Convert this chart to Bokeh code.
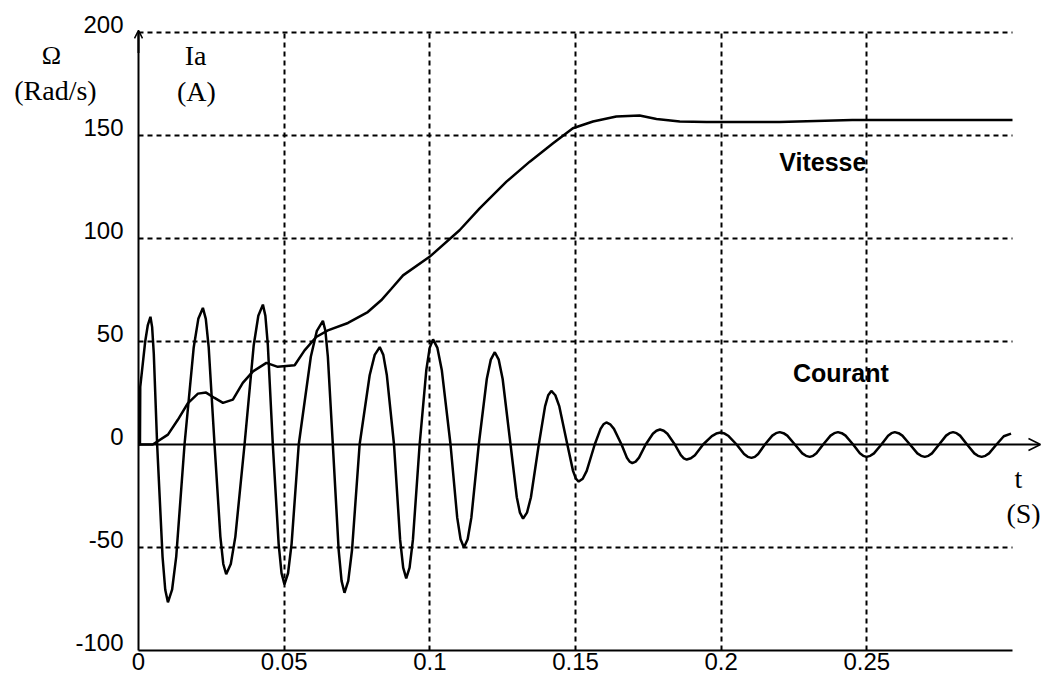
from bokeh.plotting import figure
from bokeh.models import FixedTicker, Label, Arrow, OpenHead, Range1d, LinearAxis
from bokeh.embed import file_html
from bokeh.resources import INLINE

# ---------------- data ----------------
x_ticks = [0, 0.05, 0.1, 0.15, 0.2, 0.25]
x_tick_labels = ["0", "0.05", "0.1", "0.15", "0.2", "0.25"]
y_ticks = [-100, -50, 0, 50, 100, 150, 200]
y_tick_labels = ["-100", "-50", "0", "50", "100", "150", "200"]
x_grid = [0.05, 0.1, 0.15, 0.2, 0.25]
y_grid = [-50, 50, 100, 150, 200]
t_max = 0.3

# Vitesse (speed, rad/s)
speed_t = [0.0, 0.0049, 0.0101, 0.0135, 0.0169, 0.0204, 0.0232, 0.0261, 0.0290,
           0.0324, 0.0358, 0.0393, 0.0439, 0.0478, 0.0536, 0.0570, 0.0610, 0.0650,
           0.0719, 0.0787, 0.0833, 0.0868, 0.0908, 0.0999, 0.1102, 0.1171, 0.1263,
           0.1343, 0.1423, 0.1491, 0.1560, 0.1640, 0.1720, 0.1778, 0.1858, 0.1950,
           0.2200, 0.2450, 0.3000]
speed_v = [0.0, 0.0, 4.8, 12.0, 20.0, 24.7, 25.2, 22.6, 20.2,
           21.8, 29.9, 35.5, 39.6, 37.7, 38.5, 45.7, 52.2, 55.4,
           59.0, 64.3, 70.0, 75.6, 82.1, 91.1, 104.0, 114.6, 127.6,
           137.3, 146.2, 153.5, 156.8, 159.2, 159.7, 158.0, 156.8, 156.5,
           156.5, 157.5, 157.5]

# Courant (armature current, A) - one line per half-wave
current_t = [0.0, 0.0005, 0.0006, 0.0023, 0.0032, 0.0041, 0.00468, 0.00525, 0.0064,
             0.00825, 0.00918, 0.0101, 0.01153, 0.01295, 0.0158,
             0.01895, 0.02053, 0.0221, 0.0231, 0.0241, 0.0261,
             0.0281, 0.0291, 0.0301, 0.03168, 0.03325, 0.0364,
             0.03955, 0.04113, 0.0427, 0.04355, 0.0444, 0.0461,
             0.0481, 0.0491, 0.0501, 0.05133, 0.05255, 0.0550,
             0.05915, 0.06123, 0.0633, 0.06415, 0.0650, 0.0667,
             0.0687, 0.0697, 0.0707, 0.0720, 0.0733, 0.0759,
             0.07935, 0.08108, 0.0828, 0.08403, 0.08525, 0.0877,
             0.0898, 0.09085, 0.0919, 0.09305, 0.0942, 0.0965,
             0.0988, 0.09995, 0.1011, 0.1026, 0.1041, 0.1071,
             0.1094, 0.11055, 0.1117, 0.11298, 0.11425, 0.1168,
             0.11955, 0.12093, 0.1223, 0.12365, 0.1250, 0.1277,
             0.12985, 0.13093, 0.1320, 0.13335, 0.1347, 0.1374,
             0.13955, 0.14063, 0.1417, 0.14308, 0.14445, 0.1472,
             0.14915, 0.15013, 0.1511, 0.15248, 0.15385, 0.1566,
             0.1586, 0.1596, 0.1606, 0.1619, 0.1632, 0.1658,
             0.16765, 0.16858, 0.1695, 0.17065, 0.1718, 0.1741,
             0.17655, 0.17778, 0.1790, 0.18028, 0.18155, 0.1841,
             0.18615, 0.18718, 0.1882, 0.1896, 0.1910, 0.1938,
             0.1968, 0.1983, 0.1998, 0.20118, 0.20255, 0.2053,
             0.20785, 0.20913, 0.2104, 0.21155, 0.2127, 0.2150,
             0.21755, 0.21883, 0.2201, 0.2214, 0.2227, 0.2253,
             0.22785, 0.22913, 0.2304, 0.23155, 0.2327, 0.2350,
             0.23755, 0.23883, 0.2401, 0.2414, 0.2427, 0.2453,
             0.2476, 0.24875, 0.2499, 0.25118, 0.25245, 0.2550,
             0.2573, 0.25845, 0.2596, 0.2609, 0.2622, 0.2648,
             0.26735, 0.26863, 0.2699, 0.27113, 0.27235, 0.2748,
             0.2772, 0.2784, 0.2796, 0.2808, 0.2820, 0.2844,
             0.2869, 0.28815, 0.2894, 0.29068, 0.29195, 0.2945,
             0.2970, 0.2995]
current_a = [0.0, 0.0, 28.0, 50.0, 58.0, 62.0, 57.0, 44.0, 0.0,
             -54.4, -70.5, -76.6, -70.5, -54.4, 0.0,
             47.1, 61.0, 66.3, 61.0, 47.1, 0.0,
             -44.7, -58.0, -63.0, -58.0, -44.7, 0.0,
             48.2, 62.5, 67.9, 62.5, 48.2, 0.0,
             -48.2, -62.5, -67.9, -62.5, -48.2, 0.0,
             42.6, 55.2, 60.0, 55.2, 42.6, 0.0,
             -51.1, -66.2, -72.0, -66.2, -51.1, 0.0,
             33.6, 43.5, 47.3, 43.5, 33.6, 0.0,
             -46.2, -59.8, -65.0, -59.8, -46.2, 0.0,
             36.2, 46.9, 51.0, 46.9, 36.2, 0.0,
             -35.5, -46.0, -50.0, -46.0, -35.5, 0.0,
             31.8, 41.2, 44.8, 41.2, 31.8, 0.0,
             -25.6, -33.1, -36.0, -33.1, -25.6, 0.0,
             18.5, 23.9, 26.0, 23.9, 18.5, 0.0,
             -12.8, -16.6, -18.0, -16.6, -12.8, 0.0,
             7.6, 9.8, 10.7, 9.8, 7.6, 0.0,
             -6.4, -8.3, -9.0, -8.3, -6.4, 0.0,
             5.2, 6.7, 7.3, 6.7, 5.2, 0.0,
             -5.2, -6.7, -7.3, -6.7, -5.2, 0.0,
             4.1, 5.3, 5.8, 5.3, 4.1, 0.0,
             -4.6, -6.0, -6.5, -6.0, -4.6, 0.0,
             4.3, 5.5, 6.0, 5.5, 4.3, 0.0,
             -4.3, -5.5, -6.0, -5.5, -4.3, 0.0,
             4.3, 5.5, 6.0, 5.5, 4.3, 0.0,
             -4.3, -5.5, -6.0, -5.5, -4.3, 0.0,
             4.3, 5.5, 6.0, 5.5, 4.3, 0.0,
             -4.3, -5.5, -6.0, -5.5, -4.3, 0.0,
             4.3, 5.5, 6.0, 5.5, 4.3, 0.0,
             -4.3, -5.5, -6.0, -5.5, -4.3, 0.0,
             4.0, 5.3]

# ---------------- geometry (screen layout) ----------------
W, H = 1045, 679
X0_PX, X1_PX = 138, 1012      # canvas px of t=0 and t=0.3
YT_PX, YB_PX = 32, 650        # canvas px of 200 and -100
sx = (X1_PX - X0_PX) / t_max
sy = (YB_PX - YT_PX) / 300.0
x_start = -X0_PX / sx
x_end = t_max + (W - X1_PX) / sx
y_end = 200 + YT_PX / sy
y_start = -100 - (H - YB_PX) / sy
d_lbl = 8.5 / sy              # tick labels sit just above their grid line

p = figure(width=W, height=H, output_backend="svg", toolbar_location=None,
           x_range=Range1d(x_start, x_end), y_range=Range1d(y_start, y_end),
           y_axis_location=None,
           min_border_left=0, min_border_right=0, min_border_top=0,
           min_border_bottom=0)
p.extra_y_ranges = {"lbl": Range1d(y_start - d_lbl, y_end - d_lbl)}
p.outline_line_color = None
p.background_fill_color = "white"
p.border_fill_color = "white"

xa = p.xaxis[0]
xa.fixed_location = -100
xa.bounds = (0, t_max)
xa.ticker = FixedTicker(ticks=x_ticks)
xa.major_label_overrides = {t: s for t, s in zip(x_ticks, x_tick_labels)}
xa.major_label_standoff = 2

ya = LinearAxis(y_range_name="lbl", fixed_location=0)
ya.bounds = (-100 - d_lbl, 200 - d_lbl)
ya.ticker = FixedTicker(ticks=y_ticks)
ya.major_label_overrides = {t: s for t, s in zip(y_ticks, y_tick_labels)}
ya.major_label_standoff = 15
p.add_layout(ya, "left")

for ax in (xa, ya):
    ax.major_tick_in = 0
    ax.major_tick_out = 0
    ax.minor_tick_in = 0
    ax.minor_tick_out = 0
    ax.axis_line_width = 2
    ax.axis_line_color = "black"
    ax.major_label_text_font = "Liberation Sans"
    ax.major_label_text_font_size = "24px"
    ax.major_label_text_color = "black"

p.xgrid.ticker = FixedTicker(ticks=x_grid)
p.ygrid.ticker = FixedTicker(ticks=y_grid)
use_segments = False
try:
    p.xgrid[0].cross_bounds = (-100, 200)
    p.ygrid[0].cross_bounds = (0, t_max)
except Exception:
    use_segments = True
if use_segments:
    p.xgrid.visible = False
    p.ygrid.visible = False
    p.segment(x0=x_grid, y0=[-100] * len(x_grid), x1=x_grid, y1=[200] * len(x_grid),
              line_color="black", line_width=2, line_dash="5 4")
    p.segment(x0=[0] * len(y_grid), y0=y_grid, x1=[t_max] * len(y_grid), y1=y_grid,
              line_color="black", line_width=2, line_dash="5 4")
else:
    for g in (p.xgrid[0], p.ygrid[0]):
        g.grid_line_color = "black"
        g.grid_line_width = 2
        g.grid_line_dash = "5 4"

# zero line with arrow (t axis)
p.add_layout(Arrow(x_start=0, y_start=0, x_end=0.3096, y_end=0,
                   line_color="black", line_width=2,
                   end=OpenHead(size=12, line_width=1.5, line_color="black")))
# arrow on the vertical axis
p.add_layout(Arrow(x_start=0, y_start=190, x_end=0, y_end=201,
                   line_color="black", line_width=2,
                   end=OpenHead(size=8, line_width=1.5, line_color="black")))

p.line(speed_t, speed_v, line_color="black", line_width=2.5)
p.line(current_t, current_a, line_color="black", line_width=2.5)

serif = "Liberation Serif"
for txt, x, y, font, size, style in [
    ("Ω", -0.0299, 188.6, serif, "26px", "normal"),
    ("(Rad/s)", -0.0285, 172.0, serif, "28px", "normal"),
    ("Ia", 0.0196, 188.6, serif, "28px", "normal"),
    ("(A)", 0.0199, 171.6, serif, "28px", "normal"),
    ("t", 0.30206, -16.5, serif, "28px", "normal"),
    ("(S)", 0.30378, -33.4, serif, "28px", "normal"),
    ("Vitesse", 0.2349, 137.2, "Liberation Sans", "25px", "bold"),
    ("Courant", 0.2411, 34.9, "Liberation Sans", "25px", "bold"),
]:
    p.add_layout(Label(x=x, y=y, text=txt, text_font=font, text_font_size=size,
                       text_font_style=style, text_align="center",
                       text_baseline="middle", text_color="black"))

open("out.html", "w").write(file_html(p, INLINE))
